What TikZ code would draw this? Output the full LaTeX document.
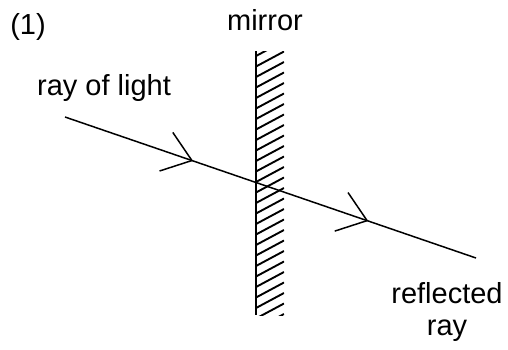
\documentclass[tikz,border=0pt]{standalone}
\usepackage{fontspec}
\setmainfont{Liberation Sans}
\usetikzlibrary{decorations.markings}

\tikzset{
  lbl/.style={inner sep=0pt, font=\fontsize{14.5}{16}\selectfont, align=center},
  ray/.style={line width=0.75pt, postaction={decorate},
    decoration={markings, mark=at position #1 with {\draw[line width=0.75pt] (-13.6pt,10.2pt) -- (0,0) -- (-13.6pt,-10.2pt);}}},
}

\begin{document}
\begin{tikzpicture}[x=0.5pt, y=-0.5pt]
  \useasboundingbox (0,0) rectangle (508,349);

  \node[lbl] (num) at (28,27) {(1)};
  \node[lbl] (mirrorlbl) at (265,20) {mirror};
  \node[lbl] (raylbl) at (104,88) {ray of light};
  \node[lbl] (refllbl) at (447,312) {reflected\\ray};

  % mirror
  \begin{scope}
    \clip (256,51) rectangle (284,315);
    \foreach \y in {56,66.5,...,340}
      \draw[line width=0.95pt] (256,\y) -- (284,\y-15);
  \end{scope}
  \draw[line width=1.3pt] (256,51) -- (256,315);

  \coordinate (src) at (65,117);
  \coordinate (hit) at (256,182.5);
  \coordinate (dst) at (476,258);

  \draw[ray=0.665] (src) -- (hit);
  \draw[ray=0.505] (hit) -- (dst);
\end{tikzpicture}
\end{document}
